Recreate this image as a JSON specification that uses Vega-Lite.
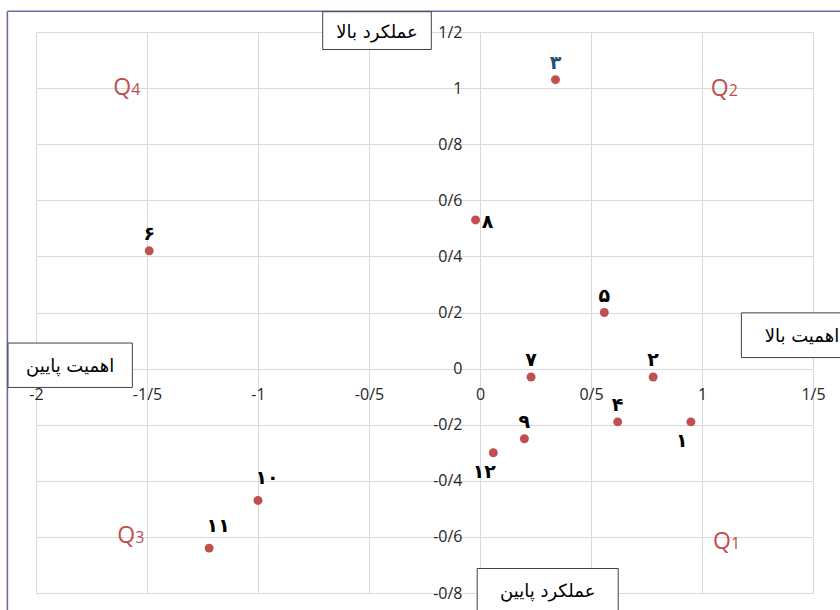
{
  "$schema": "https://vega.github.io/schema/vega-lite/v6.json",
  "width": 777,
  "height": 561,
  "autosize": {"type": "none"},
  "padding": {"left": 36, "top": 32, "right": 27, "bottom": 17},
  "background": "white",
  "config": {"view": {"stroke": null}, "font": "Open Sans"},
  "datasets": {
    "frame": [
      {"side": "left", "x": -2.129, "x2": -2.129, "y": 1.274, "y2": -0.9},
      {"side": "top", "x": -2.129, "x2": 1.8, "y": 1.274, "y2": 1.274}
    ],
    "points": [
      {"id": 1, "label": "۱", "x": 0.95, "y": -0.19, "pos": "belowleft"},
      {"id": 2, "label": "۲", "x": 0.78, "y": -0.03, "pos": "above"},
      {"id": 3, "label": "۳", "x": 0.34, "y": 1.03, "pos": "above"},
      {"id": 4, "label": "۴", "x": 0.62, "y": -0.19, "pos": "above"},
      {"id": 5, "label": "۵", "x": 0.56, "y": 0.2, "pos": "above"},
      {"id": 6, "label": "۶", "x": -1.49, "y": 0.42, "pos": "above"},
      {"id": 7, "label": "۷", "x": 0.23, "y": -0.03, "pos": "above"},
      {"id": 8, "label": "۸", "x": -0.02, "y": 0.53, "pos": "right"},
      {"id": 9, "label": "۹", "x": 0.2, "y": -0.25, "pos": "above"},
      {"id": 10, "label": "۱۰", "x": -1.0, "y": -0.47, "pos": "aboveright"},
      {"id": 11, "label": "۱۱", "x": -1.22, "y": -0.64, "pos": "aboveright"},
      {"id": 12, "label": "۱۲", "x": 0.06, "y": -0.3, "pos": "belowleft"}
    ],
    "quads": [
      {"n": "4", "x": -1.652, "y": 0.975},
      {"n": "2", "x": 1.039, "y": 0.972},
      {"n": "3", "x": -1.634, "y": -0.623},
      {"n": "1", "x": 1.05, "y": -0.644}
    ],
    "boxes": [
      {"box": "b1", "label": "عملکرد بالا", "x": -0.464, "y": 1.205},
      {"box": "b2", "label": "اهمیت پایین", "x": -1.846, "y": 0.012},
      {"box": "b3", "label": "اهمیت بالا", "x": 1.45, "y": 0.119},
      {"box": "b4", "label": "عملکرد پایین", "x": 0.305, "y": -0.791}
    ]
  },
  "encoding": {
    "x": {
      "field": "x", "type": "quantitative",
      "scale": {"domain": [-2, 1.5], "nice": false, "zero": false},
      "axis": {
        "title": null, "values": [-2, -1.5, -1, -0.5, 0, 0.5, 1, 1.5],
        "offset": -224, "domain": false, "ticks": false, "tickSize": 0,
        "labelPadding": 17, "labelFlush": false, "labelOverlap": false,
        "labelExpr": "replace('' + datum.value, '.', '/')",
        "labelFontSize": 16, "labelColor": "#262626", "labelFont": "Open Sans",
        "grid": true, "gridColor": "#d9d9d9", "gridWidth": 1
      }
    },
    "y": {
      "field": "y", "type": "quantitative",
      "scale": {"domain": [-0.8, 1.2], "nice": false, "zero": false},
      "axis": {
        "title": null, "values": [-0.8, -0.6, -0.4, -0.2, 0, 0.2, 0.4, 0.6, 0.8, 1, 1.2],
        "offset": -444, "domain": false, "ticks": false, "tickSize": 0,
        "labelPadding": 18, "labelFlush": false, "labelOverlap": false,
        "labelExpr": "replace('' + datum.value, '.', '/')",
        "labelFontSize": 16, "labelColor": "#262626", "labelFont": "Open Sans",
        "grid": true, "gridColor": "#d9d9d9", "gridWidth": 1
      }
    }
  },
  "layer": [
    {
      "data": {"name": "frame"},
      "mark": {"type": "rule", "color": "#8064A2", "strokeWidth": 1.6},
      "encoding": {"x2": {"field": "x2"}, "y2": {"field": "y2"}}
    },
    {
      "data": {"name": "points"},
      "mark": {"type": "point", "filled": true, "color": "#C0504D", "size": 80, "opacity": 1}
    },
    {
      "data": {"name": "points"},
      "transform": [{"filter": "datum.pos == 'above'"}],
      "mark": {"type": "text", "font": "DejaVu Sans", "fontWeight": "bold", "fontSize": 19, "baseline": "middle", "align": "center", "dy": -17},
      "encoding": {
        "text": {"field": "label"},
        "color": {"condition": {"test": "datum.id == 3", "value": "#1F4E79"}, "value": "#000000"}
      }
    },
    {
      "data": {"name": "points"},
      "transform": [{"filter": "datum.pos == 'aboveright'"}],
      "mark": {"type": "text", "font": "DejaVu Sans", "fontWeight": "bold", "fontSize": 19, "baseline": "middle", "align": "center", "dx": 9, "dy": -22, "color": "#000000"},
      "encoding": {"text": {"field": "label"}}
    },
    {
      "data": {"name": "points"},
      "transform": [{"filter": "datum.pos == 'right'"}],
      "mark": {"type": "text", "font": "DejaVu Sans", "fontWeight": "bold", "fontSize": 19, "baseline": "middle", "align": "center", "dx": 12, "dy": 2, "color": "#000000"},
      "encoding": {"text": {"field": "label"}}
    },
    {
      "data": {"name": "points"},
      "transform": [{"filter": "datum.pos == 'belowleft'"}],
      "mark": {"type": "text", "font": "DejaVu Sans", "fontWeight": "bold", "fontSize": 19, "baseline": "middle", "align": "center", "dx": -9, "dy": 19, "color": "#000000"},
      "encoding": {"text": {"field": "label"}}
    },
    {
      "data": {"name": "quads"},
      "mark": {"type": "text", "font": "Open Sans", "fontSize": 23, "align": "left", "baseline": "alphabetic", "color": "#C0504D", "text": "Q"}
    },
    {
      "data": {"name": "quads"},
      "mark": {"type": "text", "font": "Open Sans", "fontSize": 16, "align": "left", "baseline": "alphabetic", "color": "#C0504D", "dx": 18},
      "encoding": {"text": {"field": "n"}}
    },
    {
      "data": {"name": "boxes"},
      "mark": {"type": "point", "filled": true, "fill": "white", "stroke": "#404040", "strokeWidth": 1, "opacity": 1, "size": 22500},
      "encoding": {
        "shape": {
          "field": "box", "type": "nominal", "legend": null,
          "scale": {
            "domain": ["b1", "b2", "b3", "b4"],
            "range": [
              "M-0.724,-0.252L0.724,-0.252L0.724,0.252L-0.724,0.252Z",
              "M-0.829,-0.296L0.829,-0.296L0.829,0.296L-0.829,0.296Z",
              "M-0.807,-0.298L0.807,-0.298L0.807,0.298L-0.807,0.298Z",
              "M-0.94,-0.293L0.94,-0.293L0.94,0.293L-0.94,0.293Z"
            ]
          }
        }
      }
    },
    {
      "data": {"name": "boxes"},
      "mark": {"type": "text", "font": "DejaVu Sans", "fontSize": 18, "align": "center", "baseline": "middle", "dy": 2, "color": "#000000"},
      "encoding": {"text": {"field": "label"}}
    }
  ]
}
